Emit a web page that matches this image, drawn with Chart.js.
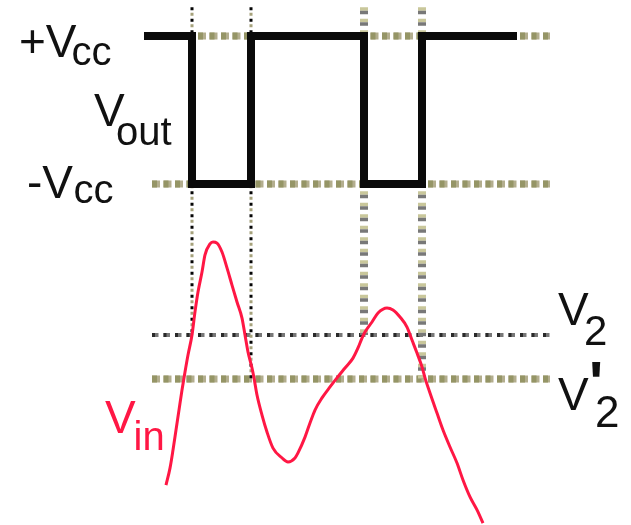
<!DOCTYPE html>
<html>
<head>
<meta charset="utf-8">
<title>Schmitt trigger</title>
<script src="https://cdn.jsdelivr.net/npm/chart.js@4.4.1/dist/chart.umd.min.js"></script>
<style>
  html, body { margin: 0; padding: 0; background: #ffffff; }
  #wrap { width: 631px; height: 525px; }
</style>
</head>
<body>
<div id="wrap"><canvas id="chart" width="631" height="525"></canvas></div>
<script>
// ---- comparator output (V) ----
const vccHigh = 12;
const vccLow = -12;
const outStart = 0;          // ms
const outEnd = 37.3;         // ms
const switchTimes = [4.8, 10.7, 22.0, 27.8];       // ms
const outLevels = [vccLow, vccHigh, vccLow, vccHigh];

// ---- thresholds (V) ----
const upperThreshold = 3;    // V2
const lowerThreshold = 1;    // V'2
const switchThresholds = [upperThreshold, lowerThreshold, upperThreshold, lowerThreshold];

// ---- input signal ----
const vinTime = [2.2, 2.6, 2.9, 3.2, 3.5, 3.8, 4.1, 4.4, 4.8, 5.1, 5.4, 5.8, 6.1, 6.6, 6.9, 7.3,
  7.8, 8.3, 8.8, 9.3, 9.8, 10.1, 10.4, 10.8, 11.0, 11.3, 11.8, 12.3, 12.9, 13.8, 14.4, 15.1,
  15.4, 16.1, 16.6, 17.1, 17.8, 18.6, 19.3, 20.1, 20.9, 21.4, 21.8, 22.1, 22.8, 23.4, 24.3,
  24.9, 25.6, 26.3, 26.8, 27.3, 27.8, 28.1, 28.6, 29.3, 29.9, 30.6, 31.3, 31.9, 32.6, 33.3, 33.9];
const vinVolts = [-3.82, -3.05, -2.23, -1.32, -0.41, 0.5, 1.32, 2.09, 3.0, 4.05, 4.95, 5.86, 6.64, 7.14, 7.23, 7.18,
  6.77, 6.05, 5.27, 4.5, 3.77, 3.0, 2.23, 1.5, 1.05, 0.27, -0.64, -1.41, -2.14, -2.59, -2.77, -2.59,
  -2.36, -1.64, -1.0, -0.41, 0.14, 0.64, 1.05, 1.5, 1.95, 2.41, 2.86, 3.14, 3.59, 4.0, 4.23,
  4.14, 3.82, 3.36, 2.77, 2.18, 1.55, 1.05, 0.36, -0.55, -1.32, -2.09, -2.82, -3.59, -4.36, -4.95, -5.55];

// ---- extent of the reference lines ----
const refStart = 0.8;
const refEnd = 40.6;
const markerTop = 17.9;

// colours
const OLIVE_DARK = '#959566';
const OLIVE_LIGHT = '#b3ae8e';
const GREY = '#787878';
const INK = '#0a0a0a';
const RED = '#ff1744';

// square wave points: start level, then the new level at each switch, then the end
const outPoints = [{ x: outStart, y: vccHigh }]
  .concat(switchTimes.map((t, i) => ({ x: t, y: outLevels[i] })))
  .concat([{ x: outEnd, y: outLevels[outLevels.length - 1] }]);

const vinPoints = vinTime.map((t, i) => ({ x: t, y: vinVolts[i] }));

function hLine(level, axis, color, width, dash, offset, order) {
  return {
    data: [{ x: refStart, y: level }, { x: refEnd, y: level }],
    yAxisID: axis, borderColor: color, borderWidth: width,
    borderDash: dash, borderDashOffset: offset || 0,
    borderCapStyle: 'butt', pointRadius: 0, order: order
  };
}
function vLine(t, bottom, color, width, dash, offset, order) {
  return {
    data: [{ x: t, y: markerTop }, { x: t, y: bottom }],
    yAxisID: 'yIn', borderColor: color, borderWidth: width,
    borderDash: dash, borderDashOffset: offset || 0,
    borderCapStyle: 'butt', pointRadius: 0, order: order
  };
}

const datasets = [
  {
    label: 'Vout', data: outPoints, yAxisID: 'yOut', stepped: 'before',
    borderColor: INK, borderWidth: 8, borderJoinStyle: 'miter', borderCapStyle: 'butt',
    pointRadius: 0, order: 0
  },
  {
    label: 'Vin', data: vinPoints, yAxisID: 'yIn', cubicInterpolationMode: 'monotone',
    borderColor: RED, borderWidth: 3, pointRadius: 0, order: 1
  },
  // supply levels
  hLine(vccHigh, 'yOut', OLIVE_LIGHT, 7, [8, 3.5], 0, 20),
  hLine(vccHigh, 'yOut', OLIVE_DARK, 7, [5, 6.5], 0, 19),
  hLine(vccLow, 'yOut', OLIVE_LIGHT, 7, [8, 3.5], 0, 20),
  hLine(vccLow, 'yOut', OLIVE_DARK, 7, [5, 6.5], 0, 19),
  // thresholds
  hLine(lowerThreshold, 'yIn', OLIVE_LIGHT, 7, [8, 3.5], 0, 20),
  hLine(lowerThreshold, 'yIn', OLIVE_DARK, 7, [5, 6.5], 0, 19),
  hLine(upperThreshold, 'yIn', GREY, 4, [6.5, 5], 0, 20),
  hLine(upperThreshold, 'yIn', '#2a2a2a', 4, [3, 8.5], 0, 19)
];

// switching instants
switchTimes.forEach((t, i) => {
  const bottom = switchThresholds[i];
  if (i < 2) {
    datasets.push(vLine(t, bottom, '#a6a27c', 3, [3, 8.5], -5.5, 18));
    datasets.push(vLine(t, bottom, '#050505', 3, [3, 8.5], 0, 17));
  } else {
    datasets.push(vLine(t, bottom, '#c9c79b', 8, [3.5, 8], 0, 18));
    datasets.push(vLine(t, bottom, GREY, 8, [3.5, 8], -3.5, 17));
  }
});

// text annotations: [text, font size, x, baseline, bold]
const FONT = '"Liberation Sans", Arial, sans-serif';
const textLabels = [
  { color: '#111', runs: [['+V', 46, 19, 57], ['cc', 40, 71.5, 65]] },
  { color: '#111', runs: [['V', 46, 94, 126], ['out', 40, 116, 145]] },
  { color: '#111', runs: [['-V', 46, 27, 198], ['cc', 40, 73.5, 203]] },
  { color: '#111', runs: [['V', 46, 558, 325], ['2', 42, 584, 345]] },
  { color: '#111', runs: [['V', 46, 558, 410], ["'", 60, 589, 403, true], ['2', 44, 595, 427]] },
  { color: RED, runs: [['V', 46, 105, 433], ['in', 40, 133.5, 450]] }
];

const labelPlugin = {
  id: 'textLabels',
  afterDraw(chart) {
    const ctx = chart.ctx;
    ctx.save();
    ctx.textAlign = 'left';
    ctx.textBaseline = 'alphabetic';
    textLabels.forEach(lbl => {
      ctx.fillStyle = lbl.color;
      lbl.runs.forEach(([txt, size, x, y, bold]) => {
        ctx.font = (bold ? 'bold ' : '') + size + 'px ' + FONT;
        ctx.fillText(txt, x, y);
      });
    });
    ctx.restore();
  }
};

const whiteBg = {
  id: 'whiteBg',
  beforeDraw(chart) {
    const c = chart.ctx;
    c.save();
    c.fillStyle = '#ffffff';
    c.fillRect(0, 0, chart.width, chart.height);
    c.restore();
  }
};

new Chart(document.getElementById('chart'), {
  type: 'line',
  data: { datasets },
  options: {
    responsive: false,
    devicePixelRatio: 1,
    animation: false,
    layout: { padding: 0 },
    plugins: { legend: { display: false }, tooltip: { enabled: false } },
    elements: { line: { tension: 0 } },
    scales: {
      x: { type: 'linear', min: -14.4, max: 48.7, display: false },
      yOut: { type: 'linear', min: -67.297, max: 17.838, display: false },
      yIn: { type: 'linear', min: -5.636, max: 18.227, display: false }
    }
  },
  plugins: [whiteBg, labelPlugin]
});
</script>
</body>
</html>
